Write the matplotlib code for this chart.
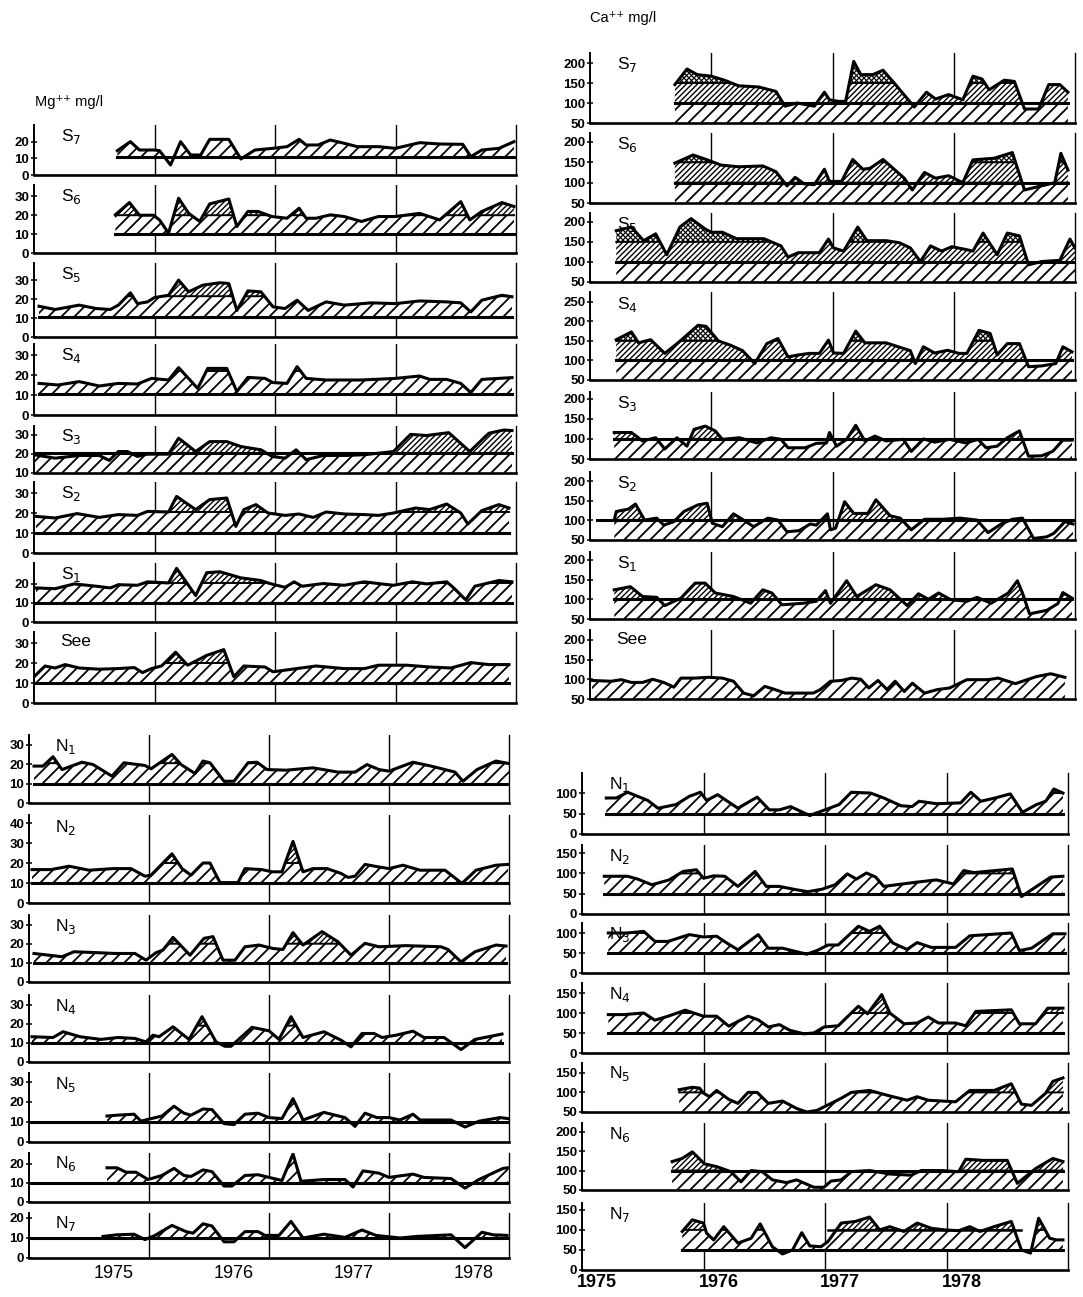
import numpy as np
import matplotlib
matplotlib.use('Agg')
import matplotlib.pyplot as plt
from matplotlib.path import Path
from matplotlib.collections import LineCollection

plt.rcParams['font.family'] = ['Liberation Sans Narrow', 'Liberation Sans', 'DejaVu Sans']

# ---- Mg++ (mg/l), time in months from the left edge of each panel ----
mg_s7_t = [8.3, 9.6, 10.5, 12.0, 12.5, 13.6, 14.6, 15.6, 16.6, 17.5, 19.4, 20.6, 22.0, 23.8, 25.2, 26.4, 27.1, 28.3, 29.5, 30.9, 32.2, 34.3, 36.0, 38.4, 40.4, 42.7, 43.5, 44.6, 46.3, 47.8]
mg_s7 = [14.6, 20, 15, 15, 14.6, 6, 20, 12, 12, 21.4, 21.4, 9.6, 15, 16, 17, 21.4, 18, 18, 21, 19, 17, 17, 16, 19.4, 18.6, 18.4, 11, 15, 16, 20]

mg_s6_t = [8.1, 9.5, 10.5, 11.9, 12.5, 13.4, 14.4, 15.4, 16.5, 17.5, 19.4, 20.2, 21.3, 22.3, 23.7, 25.2, 26.4, 27.1, 28.1, 29.5, 30.9, 32.6, 34.3, 36.0, 38.4, 40.4, 42.5, 43.4, 44.6, 46.6, 47.8]
mg_s6 = [20.2, 26.7, 20, 20, 17.5, 10.5, 29, 21, 16.7, 26, 28.6, 14, 22, 22, 19.3, 18.4, 23.7, 18.4, 18.4, 20.2, 19.3, 16.7, 19.3, 19.3, 21, 17.5, 27.2, 17.5, 22, 26.7, 24.6]

mg_s5_t = [0.5, 2.1, 4.5, 6.2, 7.6, 8.4, 9.6, 10.3, 11.3, 12.0, 13.4, 14.4, 15.4, 16.8, 18.5, 19.4, 20.2, 21.3, 22.6, 23.8, 25.0, 26.2, 27.3, 29.1, 30.9, 33.6, 36.0, 38.4, 41.1, 42.5, 43.5, 44.6, 46.6, 47.6]
mg_s5 = [16.2, 14.5, 16.8, 15, 14.5, 16.8, 23.3, 17.6, 18.5, 20.8, 22, 30, 23.8, 27.3, 28.6, 28.2, 14, 24.3, 23.8, 15.9, 15, 19.4, 14, 18.5, 16.8, 18, 17.6, 19, 18.5, 18, 13.2, 19.4, 22, 21.2]

mg_s4_t = [0.5, 2.4, 4.5, 6.5, 8.4, 10.3, 11.7, 13.4, 14.4, 16.3, 17.3, 19.2, 20.2, 21.3, 23.0, 23.8, 25.2, 26.2, 27.1, 29.1, 32.6, 36.0, 38.4, 39.4, 41.1, 42.5, 43.5, 44.6, 47.6]
mg_s4 = [15.8, 15, 16.7, 14.5, 15.8, 15.5, 18.3, 17.5, 23.7, 13.3, 23.3, 23.3, 11.7, 18.8, 18.3, 16.2, 15.8, 24.2, 18.3, 17.5, 17.5, 18.3, 19.5, 17.8, 17.8, 15.8, 11.2, 17.8, 18.7]

mg_s3_t = [0.0, 2.1, 4.5, 6.5, 7.5, 8.4, 9.3, 10.3, 11.3, 13.4, 14.4, 16.1, 17.5, 19.2, 20.6, 22.6, 23.7, 25.0, 26.1, 27.1, 28.8, 30.9, 32.9, 34.3, 35.8, 37.5, 39.1, 41.3, 43.4, 45.3, 46.8, 47.6]
mg_s3 = [19.6, 17.8, 19.2, 19.2, 16.6, 21.3, 21.3, 18.7, 19.9, 19.9, 28.3, 21.3, 26.5, 26.5, 23.9, 22.2, 18.7, 17.8, 22.2, 17, 19.2, 19.2, 19.6, 20.4, 21.3, 30.3, 29.7, 31.2, 21.3, 30.9, 32.6, 32.3]

mg_s2_t = [0.2, 2.1, 4.3, 6.5, 8.4, 10.3, 11.3, 13.4, 14.2, 16.1, 17.5, 19.2, 20.1, 20.9, 22.1, 23.3, 25.0, 26.4, 27.8, 29.1, 30.9, 32.9, 34.3, 35.8, 38.0, 39.4, 41.1, 42.5, 43.2, 44.6, 46.3, 47.3]
mg_s2 = [18.3, 17.5, 19.7, 17.8, 19.2, 18.8, 20.8, 20.5, 28.3, 21.7, 26.7, 27.5, 13.3, 21.7, 24.2, 20, 18.8, 19.5, 17.8, 20.5, 19.5, 19.2, 18.8, 20, 22.5, 21.7, 24.5, 20, 14.5, 21.2, 24.2, 22.5]

mg_s1_t = [0.2, 2.1, 4.0, 6.2, 7.6, 8.4, 10.3, 11.3, 13.4, 14.2, 16.1, 17.2, 18.5, 20.6, 22.6, 23.3, 25.0, 25.9, 26.7, 28.8, 30.9, 32.9, 34.6, 35.8, 37.7, 39.1, 41.1, 41.8, 43.0, 43.9, 46.3, 47.6]
mg_s1 = [17.9, 17.5, 20, 18.8, 17.9, 19.6, 19.3, 21.1, 20.5, 28.2, 13.9, 25.9, 26.4, 23.2, 21.8, 20.5, 18.2, 21.1, 18.8, 20.2, 19.3, 21.1, 20, 19.3, 21.1, 20, 21.1, 17.9, 11.6, 18.8, 21.8, 21.1]

mg_see_t = [0.0, 1.1, 2.1, 3.1, 4.5, 6.5, 8.3, 10.0, 10.8, 11.7, 12.7, 14.1, 15.3, 17.2, 18.9, 19.9, 20.9, 23.0, 23.8, 25.7, 28.1, 30.9, 32.9, 34.3, 37.1, 39.4, 41.5, 43.5, 45.3, 47.3]
mg_see = [13.1, 18.5, 17.5, 19.2, 17.5, 16.9, 17.2, 17.7, 15.2, 17.2, 18.5, 25.4, 18.9, 23.8, 26.7, 13.1, 18.5, 18, 15.6, 16.9, 18.5, 17.2, 17.2, 18.9, 18.9, 18, 17.5, 20.2, 19.2, 19.2]

mg_n1_t = [0.5, 1.4, 2.4, 3.3, 5.3, 6.4, 8.3, 9.5, 11.6, 12.2, 14.3, 15.2, 16.6, 17.4, 18.1, 19.5, 20.5, 21.9, 22.8, 23.8, 25.7, 28.4, 30.9, 32.6, 33.8, 35.0, 36.0, 38.4, 40.2, 42.6, 43.4, 44.8, 46.7, 48.0]
mg_n1 = [19, 19, 23.8, 17.2, 21, 19.8, 13.8, 20.7, 19.3, 17.6, 25, 19.8, 15.2, 21.6, 20.7, 11.2, 11.2, 20.7, 21, 17.2, 16.9, 18.1, 15.9, 15.9, 19.8, 17.2, 16.4, 21, 19, 15.9, 11.2, 17.2, 21.6, 20.3]

mg_n2_t = [0.3, 2.2, 4.0, 6.0, 8.4, 10.2, 11.6, 12.2, 14.3, 15.3, 16.2, 17.4, 18.1, 19.1, 20.9, 21.6, 23.3, 24.3, 25.3, 26.4, 27.4, 28.4, 29.8, 31.2, 31.9, 32.6, 33.6, 35.0, 36.0, 37.4, 39.1, 41.6, 43.3, 44.7, 46.7, 47.9]
mg_n2 = [16.7, 16.7, 18.4, 16.4, 17.2, 17.2, 13.4, 13.9, 24.6, 17.2, 13.9, 20, 20, 10.2, 10.2, 17.2, 16.7, 15.6, 15.6, 30.8, 15.6, 17.2, 17.2, 14.8, 12.8, 13.4, 19.3, 18, 17.2, 18.9, 16.4, 16.4, 9.8, 16.4, 18.9, 19.3]

mg_n3_t = [0.5, 3.3, 4.5, 6.9, 8.6, 10.6, 11.7, 12.7, 13.4, 14.4, 16.1, 17.5, 18.4, 19.4, 20.6, 21.6, 23.0, 24.4, 25.4, 26.4, 27.4, 29.3, 30.9, 32.2, 33.6, 35.0, 37.7, 41.2, 41.9, 43.2, 44.6, 46.7, 47.7]
mg_n3 = [14.9, 13.2, 15.8, 15.3, 14.9, 14.9, 11.4, 15.3, 16.7, 23.3, 14, 22.8, 23.7, 11.4, 11.4, 18.4, 19.3, 17.5, 17, 25.8, 19.3, 26.3, 21, 14, 20.2, 18.4, 19, 18.4, 17, 10.5, 15.8, 19.3, 18.8]

mg_n4_t = [0.3, 2.4, 3.4, 5.1, 7.2, 8.9, 10.6, 11.7, 12.4, 13.0, 14.4, 16.0, 17.3, 18.7, 19.6, 20.2, 22.3, 24.0, 25.0, 26.2, 27.4, 29.5, 31.2, 32.2, 33.3, 34.5, 35.3, 36.7, 38.4, 39.5, 41.5, 43.2, 44.6, 47.3]
mg_n4 = [13.2, 12.8, 15.8, 13.2, 11.8, 12.8, 12.3, 10.5, 14, 13.2, 18.4, 11.8, 23.7, 10.5, 8.2, 8.2, 18.1, 16.3, 11.8, 23.7, 12.8, 15.8, 11.4, 7.9, 14.9, 14.9, 12.8, 14, 16.1, 12.8, 12.8, 6.5, 11.8, 14.6]

mg_n5_t = [7.8, 8.8, 10.5, 11.2, 11.9, 13.3, 14.5, 15.5, 16.2, 17.4, 18.3, 19.5, 20.5, 21.6, 22.9, 24.0, 25.3, 26.4, 27.4, 29.5, 31.6, 32.6, 33.6, 34.8, 36.0, 37.1, 38.4, 39.1, 42.2, 43.6, 45.0, 47.1, 47.9]
mg_n5 = [13, 13.4, 13.9, 10.4, 11.3, 13, 17.9, 14.4, 13.4, 16.5, 16.2, 9.2, 8.7, 13.9, 14.4, 12.2, 11.7, 21.7, 11, 14.8, 12.2, 7.8, 14.4, 12.2, 12.2, 11, 13.9, 11, 11, 7.5, 10.4, 12.2, 11.7]

mg_n6_t = [7.8, 8.8, 9.7, 10.7, 11.9, 13.3, 14.5, 15.5, 16.2, 17.4, 18.3, 19.5, 20.3, 21.6, 22.9, 24.0, 25.3, 26.4, 27.2, 29.5, 31.6, 32.4, 33.4, 35.0, 36.0, 38.4, 39.5, 42.2, 43.6, 45.0, 47.4, 47.9]
mg_n6 = [17.8, 17.8, 15.5, 15.5, 11.7, 13.8, 17.5, 13.8, 13.3, 16.7, 15.8, 8.3, 8.3, 13.8, 14.2, 12.8, 11.2, 25, 10.8, 11.7, 11.7, 7.8, 16.2, 15, 12.8, 14.5, 12.8, 12.2, 7.2, 11.7, 17.5, 17.8]

mg_n7_t = [7.4, 8.8, 10.5, 11.6, 12.6, 14.3, 15.7, 16.4, 17.4, 18.3, 19.5, 20.5, 21.6, 22.9, 23.6, 25.0, 26.2, 27.4, 29.5, 31.6, 33.3, 34.7, 37.1, 38.8, 42.2, 43.6, 45.3, 46.4, 47.8]
mg_n7 = [10.8, 11.6, 11.9, 9.2, 11.3, 16.3, 13.2, 12.4, 17.1, 16, 8.1, 8.1, 13.2, 13.2, 11.3, 11.3, 18.3, 10, 11.9, 10.3, 14, 11.3, 10, 10.8, 11.6, 5.2, 12.9, 11.6, 11.3]

# ---- Ca++ (mg/l) ----
ca_s7_t = [8.4, 9.6, 10.6, 12.0, 13.3, 14.7, 16.7, 18.4, 19.3, 20.5, 22.2, 23.2, 23.7, 24.6, 25.3, 26.1, 26.8, 28.0, 29.0, 30.1, 32.1, 33.3, 34.2, 35.5, 36.9, 37.9, 38.8, 39.5, 41.0, 42.0, 43.0, 44.4, 45.4, 46.5, 47.3]
ca_s7 = [146, 185, 171, 167, 157, 143, 140, 129, 92, 100, 92, 127, 108, 104, 104, 204, 171, 171, 182, 150, 90, 127, 110, 121, 108, 167, 160, 133, 157, 154, 85, 85, 146, 146, 127]

ca_s6_t = [8.4, 10.2, 11.6, 13.0, 14.7, 17.1, 18.4, 19.5, 20.3, 21.2, 22.2, 23.2, 23.7, 24.9, 26.0, 27.0, 27.7, 29.0, 31.1, 31.9, 33.1, 34.2, 35.5, 36.9, 37.9, 40.0, 41.8, 43.0, 46.0, 46.6, 47.3]
ca_s6 = [148, 168, 156, 143, 139, 141, 127, 92, 113, 97, 95, 133, 103, 103, 157, 133, 135, 157, 111, 82, 125, 111, 117, 100, 156, 160, 174, 82, 100, 172, 131]

ca_s5_t = [2.6, 4.1, 5.3, 6.5, 7.6, 8.9, 10.0, 11.4, 12.0, 13.1, 14.5, 17.2, 18.9, 19.6, 20.6, 22.7, 23.6, 24.1, 25.1, 26.5, 27.4, 29.3, 30.6, 31.7, 32.7, 33.7, 34.8, 35.8, 37.2, 37.9, 38.9, 40.3, 41.3, 42.5, 43.4, 44.7, 46.5, 47.5, 48.0]
ca_s5 = [178, 187, 153, 170, 118, 187, 208, 182, 174, 174, 158, 158, 140, 112, 123, 123, 157, 135, 127, 187, 153, 153, 148, 135, 101, 140, 127, 138, 131, 127, 172, 118, 172, 165, 93, 101, 104, 157, 135]

ca_s4_t = [2.6, 4.1, 4.8, 6.0, 7.4, 8.8, 10.7, 11.5, 12.7, 13.9, 15.1, 16.3, 17.5, 18.6, 19.6, 20.6, 21.7, 22.7, 23.6, 24.1, 25.1, 26.3, 27.2, 29.3, 31.7, 32.2, 33.0, 34.1, 35.4, 36.5, 37.3, 38.5, 39.6, 40.3, 41.3, 42.5, 43.4, 44.7, 46.1, 46.8, 47.7]
ca_s4 = [153, 173, 145, 153, 118, 147, 190, 187, 150, 139, 125, 92, 143, 156, 109, 114, 118, 118, 152, 119, 118, 175, 145, 145, 125, 92, 135, 119, 126, 118, 118, 177, 169, 114, 143, 143, 84, 86, 92, 135, 122]

ca_s3_t = [2.4, 4.1, 5.2, 6.5, 7.4, 8.6, 9.6, 10.3, 11.4, 12.4, 13.1, 14.8, 16.5, 17.9, 18.9, 19.6, 21.3, 22.4, 23.4, 23.7, 24.4, 25.4, 26.3, 27.2, 28.2, 29.3, 31.0, 31.8, 33.0, 34.1, 35.6, 37.2, 38.4, 39.2, 40.3, 41.3, 42.5, 43.4, 44.7, 45.8, 46.8, 47.7]
ca_s3 = [116, 116, 95, 103, 75, 103, 82, 124, 132, 120, 99, 103, 90, 103, 99, 78, 78, 89, 90, 116, 82, 99, 134, 95, 107, 95, 99, 69, 100, 92, 99, 90, 99, 78, 82, 103, 120, 57, 58, 69, 97, 97]

ca_s2_t = [2.4, 2.6, 3.8, 4.5, 5.4, 6.6, 7.3, 8.3, 9.3, 10.7, 11.6, 12.1, 13.1, 14.2, 15.2, 16.2, 17.6, 18.6, 19.5, 20.7, 21.8, 22.4, 23.5, 23.8, 24.3, 25.2, 26.1, 27.5, 28.3, 29.7, 30.7, 31.8, 33.1, 34.9, 36.6, 38.3, 39.4, 40.7, 41.8, 42.8, 43.9, 45.2, 45.9, 47.0, 47.8]
ca_s2 = [101, 123, 129, 142, 101, 106, 88, 97, 123, 140, 144, 93, 84, 117, 101, 84, 106, 101, 71, 74, 91, 88, 117, 76, 80, 148, 118, 118, 153, 112, 106, 76, 103, 103, 106, 101, 69, 91, 103, 106, 54, 58, 67, 97, 91]

ca_s1_t = [2.4, 4.0, 5.2, 6.6, 7.4, 9.0, 10.4, 11.4, 12.4, 14.2, 15.9, 17.1, 18.0, 19.0, 21.1, 22.4, 23.3, 23.8, 25.4, 26.4, 28.3, 29.7, 31.4, 32.5, 33.5, 34.5, 35.7, 37.3, 38.3, 39.7, 41.4, 42.3, 42.8, 43.5, 45.2, 46.3, 46.8, 47.7]
ca_s1 = [124, 132, 107, 105, 84, 103, 141, 141, 116, 107, 90, 124, 116, 86, 90, 95, 122, 90, 147, 107, 137, 124, 84, 114, 100, 116, 99, 95, 105, 90, 116, 147, 116, 63, 72, 89, 117, 103]

ca_see_t = [0.2, 2.1, 3.1, 4.1, 5.2, 6.2, 7.3, 8.3, 9.0, 10.4, 11.7, 13.1, 14.2, 15.2, 16.2, 17.3, 18.3, 19.3, 20.7, 22.1, 22.8, 23.8, 24.9, 25.9, 26.8, 27.6, 28.5, 29.4, 30.2, 31.1, 31.9, 33.1, 34.4, 35.6, 37.3, 39.4, 40.4, 42.1, 44.2, 45.6, 47.0]
ca_see = [97, 95, 99, 92, 92, 100, 92, 80, 103, 103, 105, 103, 95, 65, 58, 82, 74, 65, 65, 65, 74, 95, 97, 103, 100, 78, 97, 74, 95, 69, 90, 65, 74, 78, 99, 99, 103, 89, 107, 114, 105]

ca_n1_t = [2.4, 3.4, 4.5, 6.5, 7.5, 9.3, 10.6, 11.7, 12.3, 13.4, 15.4, 17.3, 18.5, 19.5, 20.6, 22.5, 23.0, 24.0, 25.4, 26.6, 28.5, 29.8, 31.5, 32.6, 33.3, 35.0, 37.4, 38.4, 39.4, 40.8, 42.3, 43.5, 44.9, 45.8, 46.6, 47.5]
ca_n1 = [88, 88, 102, 82, 63, 72, 92, 102, 82, 96, 63, 90, 59, 59, 67, 45, 50, 59, 72, 102, 100, 88, 69, 67, 80, 74, 76, 102, 80, 88, 98, 53, 72, 80, 110, 100]

ca_n2_t = [2.2, 4.5, 5.5, 6.9, 8.6, 10.0, 11.3, 12.0, 13.0, 14.1, 15.4, 17.1, 18.2, 19.5, 20.9, 22.3, 23.7, 25.0, 26.2, 27.1, 28.1, 29.0, 29.8, 32.9, 35.0, 36.7, 37.7, 38.7, 42.5, 43.4, 44.9, 46.3, 47.5]
ca_n2 = [93, 93, 86, 72, 84, 105, 109, 88, 94, 93, 68, 105, 68, 68, 61, 55, 61, 72, 99, 86, 101, 91, 68, 78, 84, 74, 107, 102, 111, 43, 68, 91, 93]

ca_n3_t = [2.6, 4.4, 6.1, 7.2, 8.5, 10.6, 12.0, 13.3, 14.3, 15.4, 17.4, 18.4, 19.8, 22.2, 23.2, 24.3, 25.3, 27.3, 28.4, 29.4, 30.7, 32.1, 33.1, 34.5, 36.9, 38.3, 42.4, 43.2, 44.4, 46.5, 47.7]
ca_n3 = [100, 100, 104, 79, 79, 96, 90, 92, 75, 58, 96, 62, 62, 47, 56, 70, 70, 117, 104, 117, 75, 59, 76, 64, 64, 93, 100, 56, 62, 98, 98]

ca_n4_t = [2.6, 4.1, 6.1, 7.2, 8.5, 10.2, 12.0, 13.3, 14.5, 16.4, 17.4, 18.4, 19.5, 20.5, 21.9, 22.9, 23.9, 25.3, 26.6, 27.3, 28.2, 29.6, 30.4, 31.8, 33.1, 34.2, 35.2, 36.9, 37.9, 38.9, 42.4, 43.2, 44.8, 46.0, 47.5]
ca_n4 = [96, 96, 100, 82, 92, 107, 92, 92, 67, 92, 83, 65, 71, 57, 48, 50, 65, 68, 100, 117, 98, 146, 100, 73, 75, 90, 75, 75, 68, 104, 108, 73, 73, 112, 112]

ca_n5_t = [9.6, 10.9, 11.6, 12.0, 12.6, 13.3, 14.5, 15.4, 16.4, 17.3, 18.4, 19.8, 21.2, 22.2, 23.2, 23.9, 25.6, 26.6, 28.4, 30.1, 32.1, 33.1, 34.2, 36.9, 38.3, 40.7, 42.4, 43.4, 44.4, 45.8, 46.5, 47.5]
ca_n5 = [107, 113, 111, 98, 89, 105, 82, 72, 100, 100, 72, 78, 59, 50, 54, 63, 85, 100, 105, 93, 80, 89, 80, 76, 105, 105, 122, 70, 67, 98, 128, 137]

ca_n6_t = [8.9, 9.9, 10.9, 12.1, 13.3, 14.7, 15.7, 16.7, 17.8, 18.8, 20.2, 21.2, 22.9, 23.9, 24.6, 25.6, 26.6, 28.4, 30.4, 32.5, 33.5, 35.5, 37.2, 37.9, 39.6, 42.0, 43.0, 44.8, 46.5, 47.5]
ca_n6 = [123, 131, 148, 117, 110, 97, 71, 100, 97, 76, 69, 76, 57, 57, 73, 76, 97, 100, 91, 88, 100, 100, 97, 129, 126, 126, 67, 105, 131, 123]

ca_n7_t = [9.9, 10.9, 12.0, 12.3, 13.0, 14.0, 15.4, 16.7, 17.6, 18.8, 19.8, 20.8, 21.7, 22.5, 23.6, 24.3, 25.6, 27.0, 28.4, 29.4, 30.4, 31.8, 33.1, 34.5, 35.8, 37.2, 38.3, 39.3, 40.7, 42.4, 43.4, 44.3, 45.1, 46.2, 46.9, 47.5]
ca_n7 = [96, 125, 117, 92, 75, 108, 67, 79, 115, 58, 40, 50, 93, 60, 58, 71, 117, 121, 132, 100, 108, 96, 117, 104, 100, 98, 108, 96, 108, 121, 50, 42, 129, 79, 75, 75]

years = ['1975', '1976', '1977', '1978']

W, H = 1083, 1297
fig = plt.figure(figsize=(W / 100, H / 100), dpi=100)

# hatch styles: (horizontal spacing in px, line width, crossed?)
WIDE = (13.0, 1.3, False)
DENSE = (5.5, 1.0, False)
CROSS = (5.0, 0.9, True)


def box(left, right, top, bottom):
    return [left / W, 1 - bottom / H, (right - left) / W, (bottom - top) / H]


def hatch(ax, region, style, z):
    """Draw 45-degree hatch lines clipped to the polygons of a fill_between."""
    paths = region.get_paths()
    if not paths:
        return
    step, lw, crossed = style
    pos = ax.get_position()
    wpx, hpx = pos.width * W, pos.height * H
    x0, x1 = ax.get_xlim()
    y0, y1 = ax.get_ylim()
    sx = wpx / (x1 - x0)
    run = hpx / sx                      # x distance covered by one diagonal
    # anchor the pattern to the figure so neighbouring panels line up
    off = (pos.x0 * W - pos.y0 * H) % step / sx
    starts = np.arange(x0 - run - off, x1 + run, step / sx)
    segs = [[(c, y0), (c + run, y1)] for c in starts]
    if crossed:
        segs += [[(c, y1), (c + run, y0)] for c in starts]
    clip = Path.make_compound_path(*paths)
    lc = LineCollection(segs, colors='black', linewidths=lw, zorder=z)
    ax.add_collection(lc)
    lc.set_clip_path(clip, ax.transData)


def panel(rect, t, v, ylim, ticks, label, low, base=None, base_span=None,
          bands=(), extra=()):
    ax = fig.add_axes(rect)
    ax.set_xlim(0, 48)
    ax.set_ylim(*ylim)
    t = np.asarray(t, float)
    v = np.asarray(v, float)

    # wide hatch between the reference level and the curve
    reg = ax.fill_between(t, low, v, where=v > low, interpolate=True,
                          facecolor='white', linewidth=0, zorder=1)
    hatch(ax, reg, WIDE, 1.2)

    # denser hatch for the parts above the upper levels
    tt = np.linspace(t[0], t[-1], 2000)
    vv = np.interp(tt, t, v)
    for k, (level, style) in enumerate(bands):
        reg = ax.fill_between(t, level, v, where=v > level, interpolate=True,
                              facecolor='white', linewidth=0, zorder=2 + k * 0.2)
        hatch(ax, reg, style, 2.1 + k * 0.2)
        ax.plot(tt, np.where(vv > level, level, np.nan), color='black', lw=1.4, zorder=3)

    if base is not None:
        x0, x1 = base_span if base_span else (t[0], t[-1])
        ax.plot([x0, x1], [base, base], color='black', lw=2.2, zorder=3)
    for level, x0, x1 in extra:
        ax.plot([x0, x1], [level, level], color='black', lw=1.8, zorder=3)

    ax.plot(t, v, color='black', lw=2.2, zorder=4)

    for m in (12, 24, 36):
        ax.axvline(m, color='black', lw=1.0, zorder=0)

    ax.spines['top'].set_visible(False)
    ax.spines['right'].set_linewidth(1.0)
    ax.spines['left'].set_linewidth(1.4)
    ax.spines['bottom'].set_linewidth(1.9)
    ax.set_xticks([])
    ax.set_yticks(ticks)
    ax.tick_params(axis='y', direction='inout', length=5, width=1.1, pad=1,
                   labelsize=9.5)
    for lab in ax.get_yticklabels():
        lab.set_fontweight('bold')
    ax.patch.set_alpha(0)
    ax.text(0.055, 0.97, label, transform=ax.transAxes, ha='left', va='top',
            fontsize=12.5)
    return ax


# ---------- Mg++ column ----------
L, R = 34, 516
panel(box(L, R, 125, 175), mg_s7_t, mg_s7, (0, 30), [0, 10, 20], r'S$_7$', 11, base=11)
panel(box(L, R, 185, 253), mg_s6_t, mg_s6, (0, 36), [0, 10, 20, 30], r'S$_6$', 10, base=10,
      bands=[(20, DENSE)])
panel(box(L, R, 263, 337), mg_s5_t, mg_s5, (0, 39), [0, 10, 20, 30], r'S$_5$', 10.5, base=10.5,
      bands=[(21.5, DENSE)])
panel(box(L, R, 344, 415), mg_s4_t, mg_s4, (0, 35.5), [0, 10, 20, 30], r'S$_4$', 10.5, base=10.5,
      bands=[(22, DENSE)])
panel(box(L, R, 426, 473), mg_s3_t, mg_s3, (10, 34.7), [10, 20, 30], r'S$_3$', 10, base=20.5,
      bands=[(20.5, DENSE)])
panel(box(L, R, 482, 553), mg_s2_t, mg_s2, (0, 35.5), [0, 10, 20, 30], r'S$_2$', 10, base=10,
      bands=[(20.5, DENSE)])
panel(box(L, R, 563, 622), mg_s1_t, mg_s1, (0, 31), [0, 10, 20], r'S$_1$', 10, base=10,
      bands=[(20.5, DENSE)])
panel(box(L, R, 632, 703), mg_see_t, mg_see, (0, 35.5), [0, 10, 20, 30], 'See', 10, base=10,
      bands=[(20, DENSE)])

L, R = 29, 509
panel(box(L, R, 735, 803), mg_n1_t, mg_n1, (0, 35), [0, 10, 20, 30], r'N$_1$', 10, base=10,
      bands=[(20.5, DENSE)])
panel(box(L, R, 815, 903), mg_n2_t, mg_n2, (0, 44), [0, 10, 20, 30, 40], r'N$_2$', 10, base=10,
      bands=[(20, DENSE)])
panel(box(L, R, 915, 982), mg_n3_t, mg_n3, (0, 35), [0, 10, 20, 30], r'N$_3$', 10, base=10,
      bands=[(20, DENSE)])
panel(box(L, R, 995, 1062), mg_n4_t, mg_n4, (0, 35), [0, 10, 20, 30], r'N$_4$', 10, base=10,
      bands=[(19, DENSE)])
panel(box(L, R, 1073, 1142), mg_n5_t, mg_n5, (0, 34.5), [0, 10, 20, 30], r'N$_5$', 10, base=10,
      base_span=(0, 47.9))
panel(box(L, R, 1153, 1202), mg_n6_t, mg_n6, (0, 25.5), [0, 10, 20], r'N$_6$', 10, base=10,
      base_span=(0, 47.9))
ax = panel(box(L, R, 1213, 1258), mg_n7_t, mg_n7, (0, 22.5), [0, 10, 20], r'N$_7$', 10, base=10,
           base_span=(0, 47.9))
ax.set_xticks([8.5, 20.5, 32.5, 44.5], years)
ax.tick_params(axis='x', length=0, labelsize=13, pad=5)

fig.text(35 / W, 1 - 102 / H, 'Mg⁺⁺ mg/l', fontsize=10.5, ha='left', va='center',
         family=['Liberation Sans', 'DejaVu Sans'])

# ---------- Ca++ column ----------
L, R = 590, 1075
hi = [(100, DENSE), (150, CROSS)]
panel(box(L, R, 53, 123), ca_s7_t, ca_s7, (50, 225), [50, 100, 150, 200], r'S$_7$', 50, base=100,
      bands=hi)
panel(box(L, R, 133, 203), ca_s6_t, ca_s6, (50, 222), [50, 100, 150, 200], r'S$_6$', 50, base=100,
      bands=hi)
panel(box(L, R, 213, 282), ca_s5_t, ca_s5, (50, 222), [50, 100, 150, 200], r'S$_5$', 50, base=100,
      bands=hi)
panel(box(L, R, 292, 380), ca_s4_t, ca_s4, (50, 275), [50, 100, 150, 200, 250], r'S$_4$', 50,
      base=100, bands=hi)
panel(box(L, R, 392, 459), ca_s3_t, ca_s3, (50, 217), [50, 100, 150, 200], r'S$_3$', 50, base=100,
      bands=[(100, DENSE)])
panel(box(L, R, 472, 540), ca_s2_t, ca_s2, (50, 224), [50, 100, 150, 200], r'S$_2$', 50, base=100,
      base_span=(0.7, 47.8), bands=[(100, DENSE)])
panel(box(L, R, 552, 619), ca_s1_t, ca_s1, (50, 220), [50, 100, 150, 200], r'S$_1$', 50, base=100,
      bands=[(100, DENSE)])
panel(box(L, R, 630, 699), ca_see_t, ca_see, (50, 225), [50, 100, 150, 200], 'See', 50)

L, R = 582, 1068
panel(box(L, R, 773, 834), ca_n1_t, ca_n1, (0, 149), [0, 50, 100], r'N$_1$', 50, base=50,
      bands=[(100, DENSE)])
panel(box(L, R, 845, 914), ca_n2_t, ca_n2, (0, 170), [0, 50, 100, 150], r'N$_2$', 50, base=50,
      bands=[(100, DENSE)])
panel(box(L, R, 923, 973), ca_n3_t, ca_n3, (0, 125), [0, 50, 100], r'N$_3$', 50, base=50,
      bands=[(100, DENSE)])
panel(box(L, R, 983, 1053), ca_n4_t, ca_n4, (0, 175), [0, 50, 100, 150], r'N$_4$', 50, base=50,
      bands=[(100, DENSE)])
panel(box(L, R, 1063, 1112), ca_n5_t, ca_n5, (50, 175), [50, 100, 150], r'N$_5$', 50,
      bands=[(100, DENSE)])
panel(box(L, R, 1123, 1190), ca_n6_t, ca_n6, (50, 222), [50, 100, 150, 200], r'N$_6$', 50,
      base=100, bands=[(100, DENSE)])
ax = panel(box(L, R, 1203, 1270), ca_n7_t, ca_n7, (0, 167), [0, 50, 100, 150], r'N$_7$', 50,
           base=50, bands=[(100, DENSE)], extra=[(100, 24.3, 43.4)])
ax.set_xticks([1.5, 13.5, 25.5, 37.5], years)
ax.tick_params(axis='x', length=0, labelsize=13, pad=3)
for lab in ax.get_xticklabels():
    lab.set_fontweight('bold')

fig.text(590 / W, 1 - 18 / H, 'Ca⁺⁺ mg/l', fontsize=10.5, ha='left', va='center',
         family=['Liberation Sans', 'DejaVu Sans'])

fig.savefig('out.png', dpi=100)
